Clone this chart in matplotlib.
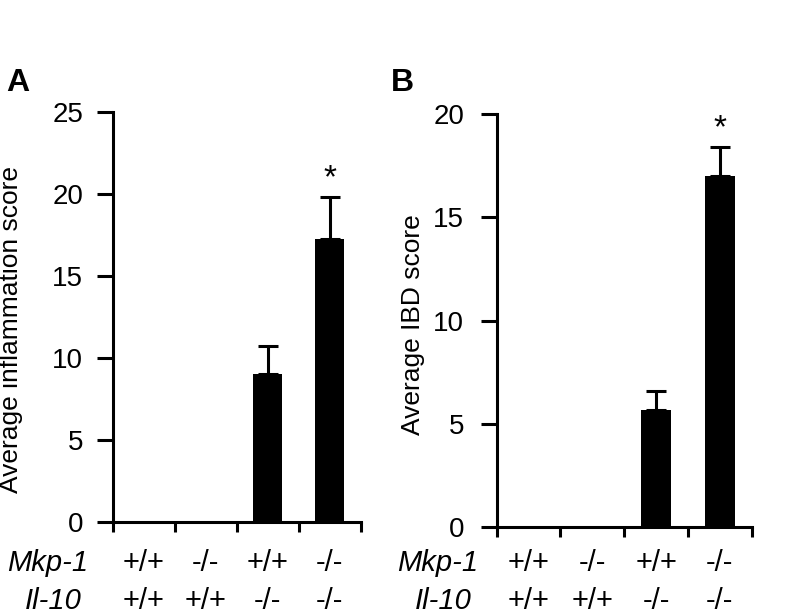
import numpy as np
import matplotlib.pyplot as plt
from matplotlib.transforms import blended_transform_factory

plt.rcParams['font.family'] = ['Liberation Sans', 'DejaVu Sans']

# --- data ---
mkp1 = ['+/+', '-/-', '+/+', '-/-']
il10 = ['+/+', '+/+', '-/-', '-/-']
inflam_mean = [0, 0, 9.0, 17.25]
inflam_err = [0, 0, 1.75, 2.55]
ibd_mean = [0, 0, 5.67, 17.0]
ibd_err = [0, 0, 0.93, 1.4]
sig = [False, False, False, True]

fig = plt.figure(figsize=(8.09, 6.14), dpi=100)
axA = fig.add_axes([0.1397, 0.1503, 0.3062, 0.6668])
axB = fig.add_axes([0.6140, 0.1422, 0.3152, 0.6716])

ROW1_Y = 1 - 563 / 614
ROW2_Y = 1 - 601 / 614


def panel(ax, means, errs, ylim, yticks, ylabel, letter, letter_x, row_x, lab_xy, tpad):
    x = np.arange(len(means))
    ax.bar(x, means, width=0.47, color='black')
    for xi, m, e in zip(x, means, errs):
        if e > 0:
            ax.errorbar(xi, m, yerr=[[0], [e]], fmt='none', ecolor='black',
                        elinewidth=2.2, capsize=7, capthick=2.2)
    for xi, m, e, s in zip(x, means, errs, sig):
        if s:
            ax.annotate('*', (xi, m + e), xytext=(0, 2), textcoords='offset points',
                        ha='center', va='bottom', fontsize=24)
    ax.set_xlim(-0.5, len(means) - 0.5)
    ax.set_ylim(*ylim)
    ax.set_yticks(yticks)
    ax.set_xticks(np.arange(len(means) + 1) - 0.5)
    ax.set_xticklabels([])
    for side in ['top', 'right']:
        ax.spines[side].set_visible(False)
    ax.spines['left'].set_linewidth(2.2)
    ax.spines['bottom'].set_linewidth(2.2)
    ax.tick_params(axis='y', length=11.5, width=2.2, labelsize=20, pad=tpad)
    ax.tick_params(axis='x', length=7, width=2.2)
    ax.set_ylabel(ylabel, fontsize=19)
    ax.yaxis.set_label_coords(*lab_xy)

    # genotype rows under the axis
    trans = blended_transform_factory(ax.transData, fig.transFigure)
    for xi, a, b in zip(x, mkp1, il10):
        ax.text(xi, ROW1_Y, a, transform=trans, ha='center', va='center', fontsize=21)
        ax.text(xi, ROW2_Y, b, transform=trans, ha='center', va='center', fontsize=21)
    fig.text(row_x[0], ROW1_Y, 'Mkp-1', ha='center', va='center', fontsize=21, style='italic')
    fig.text(row_x[1], ROW2_Y, 'Il-10', ha='center', va='center', fontsize=21, style='italic')
    fig.text(letter_x, 0.865, letter, fontsize=23, fontweight='bold', ha='left', va='center')


panel(axA, inflam_mean, inflam_err, (0, 25), [0, 5, 10, 15, 20, 25],
      'Average inflammation score', 'A', 0.008, (0.0587, 0.066), (-0.363, 0.47), 10)
panel(axB, ibd_mean, ibd_err, (0, 20), [0, 5, 10, 15, 20],
      'Average IBD score', 'B', 0.483, (0.541, 0.548), (-0.281, 0.489), 12)

fig.savefig('out.png', dpi=100)
